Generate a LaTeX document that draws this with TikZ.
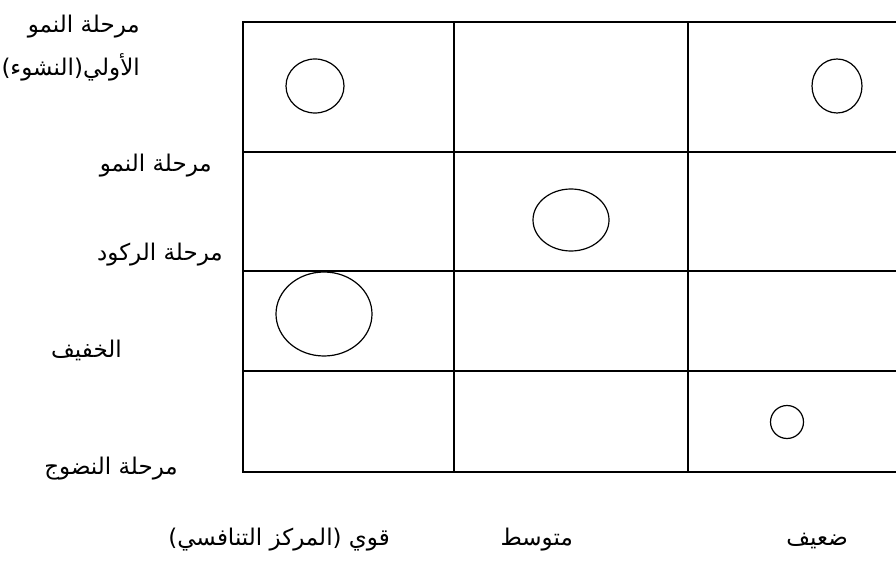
\documentclass[tikz,border=0pt]{standalone}
\usepackage{fontspec}
\TeXXeTstate=1
\newfontfamily\arabicfont[Script=Arabic]{DejaVu Sans}
\newcommand\artxt[1]{\arabicfont\beginR #1\endR}
\tikzset{
  gridline/.style={line width=1.8pt},
  blob/.style={line width=1.2pt},
  lab/.style={anchor=base east, inner sep=0pt, font=\fontsize{23}{27}\selectfont}
}
\begin{document}
\begin{tikzpicture}[x=1pt,y=-1pt]
\clip (0,0) rectangle (896,569);
\fill[white] (0,0) rectangle (896,569);
% grid
\draw[gridline] (900,22) -- (243,22) -- (243,472) -- (900,472);
\foreach \yy in {152,271,371} \draw[gridline] (243,\yy) -- (900,\yy);
\foreach \xx in {454,688} \draw[gridline] (\xx,22) -- (\xx,472);
% circles
\draw[blob] (315,86) ellipse [x radius=29, y radius=27];
\draw[blob] (837,86) ellipse [x radius=25, y radius=27];
\draw[blob] (571,220) ellipse [x radius=38, y radius=31];
\draw[blob] (324,314) ellipse [x radius=48, y radius=42];
\draw[blob] (787,422) ellipse [x radius=16.5, y radius=16.5];
% row labels
\node[lab] (r1a) at (140,33) {\artxt{مرحلة النمو}};
\node[lab] (r1b) at (140,76) {\artxt{الأولي(النشوء)}};
\node[lab] (r2) at (212,172) {\artxt{مرحلة النمو}};
\node[lab] (r3a) at (223,261) {\artxt{مرحلة الركود}};
\node[lab] (r3b) at (122,357) {\artxt{الخفيف}};
\node[lab] (r4) at (178,474) {\artxt{مرحلة النضوج}};
% column labels
\node[lab] (c1) at (390,545) {\artxt{قوي (المركز التنافسي)}};
\node[lab] (c2) at (573,545) {\artxt{متوسط}};
\node[lab] (c3) at (848,545) {\artxt{ضعيف}};
\end{tikzpicture}
\end{document}
